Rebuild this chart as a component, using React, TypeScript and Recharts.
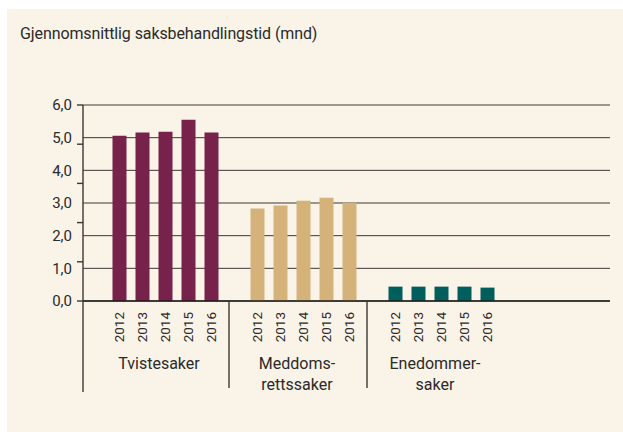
import { Bar, BarChart, CartesianGrid, Cell, ReferenceLine, XAxis, YAxis } from "recharts";

const years = ["2012", "2013", "2014", "2015", "2016"];
const tvistesaker = [5.06, 5.16, 5.18, 5.55, 5.16];
const meddomsrettssaker = [2.83, 2.92, 3.07, 3.16, 3.01];
const enedommersaker = [0.44, 0.44, 0.44, 0.44, 0.41];
const groupLabels = [["Tvistesaker"], ["Meddoms-", "rettssaker"], ["Enedommer-", "saker"]];
const groupColors = ["#77224a", "#d4b27a", "#005f5d"];
const yTicks = [0, 1, 2, 3, 4, 5, 6];
// the original's tick marks on the value axis do not sit on the grid lines
const yMarkTicks = [0, 1.2, 2.4, 3.6, 4.8, 6];

type Row = { id: string; year: string; group: number; value: number | null; blank: boolean };

const rows: Row[] = [];
[tvistesaker, meddomsrettssaker, enedommersaker].forEach((series, g) => {
  if (g > 0) rows.push({ id: `gap${g}`, year: "", group: g, value: null, blank: true });
  series.forEach((v, i) =>
    rows.push({ id: `${g}-${years[i]}`, year: years[i], group: g, value: v, blank: false })
  );
});

const FONT = "Roboto, 'DejaVu Sans', sans-serif";
const TEXT = "#2b2a28";
const LINE = "#3a3834";
const PLOT_LEFT = 76;

function XTick(props: any) {
  const { x, y, index } = props;
  const row = rows[index];
  if (!row) return null;
  if (row.blank) {
    return <line x1={x - 5} x2={x - 5} y1={y} y2={y + 87} stroke={LINE} strokeWidth={1.4} />;
  }
  const inGroup = years.indexOf(row.year);
  return (
    <g>
      {index === 0 && (
        <line x1={PLOT_LEFT} x2={PLOT_LEFT} y1={y} y2={y + 91} stroke={LINE} strokeWidth={1.4} />
      )}
      <text
        transform={`translate(${x},${y + 11}) rotate(-90)`}
        textAnchor="end"
        dominantBaseline="central"
        fontSize={13.5}
        fontFamily={FONT}
        fill={TEXT}
      >
        {row.year}
      </text>
      {inGroup === 2 &&
        groupLabels[row.group].map((line, i) => (
          <text
            key={line}
            x={x - 6}
            y={y + 68 + i * 21}
            textAnchor="middle"
            fontSize={16}
            fontFamily={FONT}
            fill={TEXT}
          >
            {line}
          </text>
        ))}
    </g>
  );
}

function MarkShape(props: any) {
  const { x1, y1 } = props;
  if (x1 == null || y1 == null) return null;
  return <line x1={x1 - 6} x2={x1} y1={y1} y2={y1} stroke={LINE} strokeWidth={1.4} />;
}

export default function App() {
  return (
    <div
      style={{
        position: "absolute",
        left: 0,
        top: 0,
        width: 623,
        height: 432,
        background: "#ffffff",
        overflow: "hidden",
      }}
    >
      <div
        style={{
          position: "absolute",
          left: 7,
          top: 9,
          width: 616,
          height: 423,
          background: "#faf3e8",
        }}
      >
        <div
          style={{
            position: "absolute",
            left: 13,
            top: 17,
            fontFamily: FONT,
            fontSize: 16,
            letterSpacing: -0.1,
            lineHeight: "16px",
            color: TEXT,
            whiteSpace: "nowrap",
          }}
        >
          Gjennomsnittlig saksbehandlingstid (mnd)
        </div>
        <BarChart
          width={616}
          height={423}
          data={rows}
          margin={{ top: 96, right: 13, bottom: 31, left: 0 }}
          style={{ position: "absolute", left: 0, top: 0 }}
        >
          <CartesianGrid vertical={false} stroke={LINE} strokeWidth={1} />
          <YAxis
            width={76}
            domain={[0, 6]}
            ticks={yTicks}
            tickSize={0}
            tickMargin={11}
            tickLine={false}
            axisLine={{ stroke: LINE, strokeWidth: 1.4 }}
            tickFormatter={(v) => Number(v).toFixed(1).replace(".", ",")}
            tick={{ fontSize: 15, fontFamily: FONT, fill: TEXT }}
          />
          <XAxis
            dataKey="id"
            height={100}
            interval={0}
            padding={{ left: 24.5, right: 111.5 }}
            tickSize={0}
            tickMargin={0}
            tickLine={false}
            axisLine={{ stroke: "#1e1d1b", strokeWidth: 1.5 }}
            tick={<XTick />}
          />
          {yMarkTicks.map((v) => (
            <ReferenceLine key={v} y={v} ifOverflow="visible" shape={<MarkShape />} />
          ))}
          <Bar dataKey="value" barSize={14} isAnimationActive={false}>
            {rows.map((r) => (
              <Cell key={r.id} fill={groupColors[r.group]} />
            ))}
          </Bar>
        </BarChart>
      </div>
    </div>
  );
}
